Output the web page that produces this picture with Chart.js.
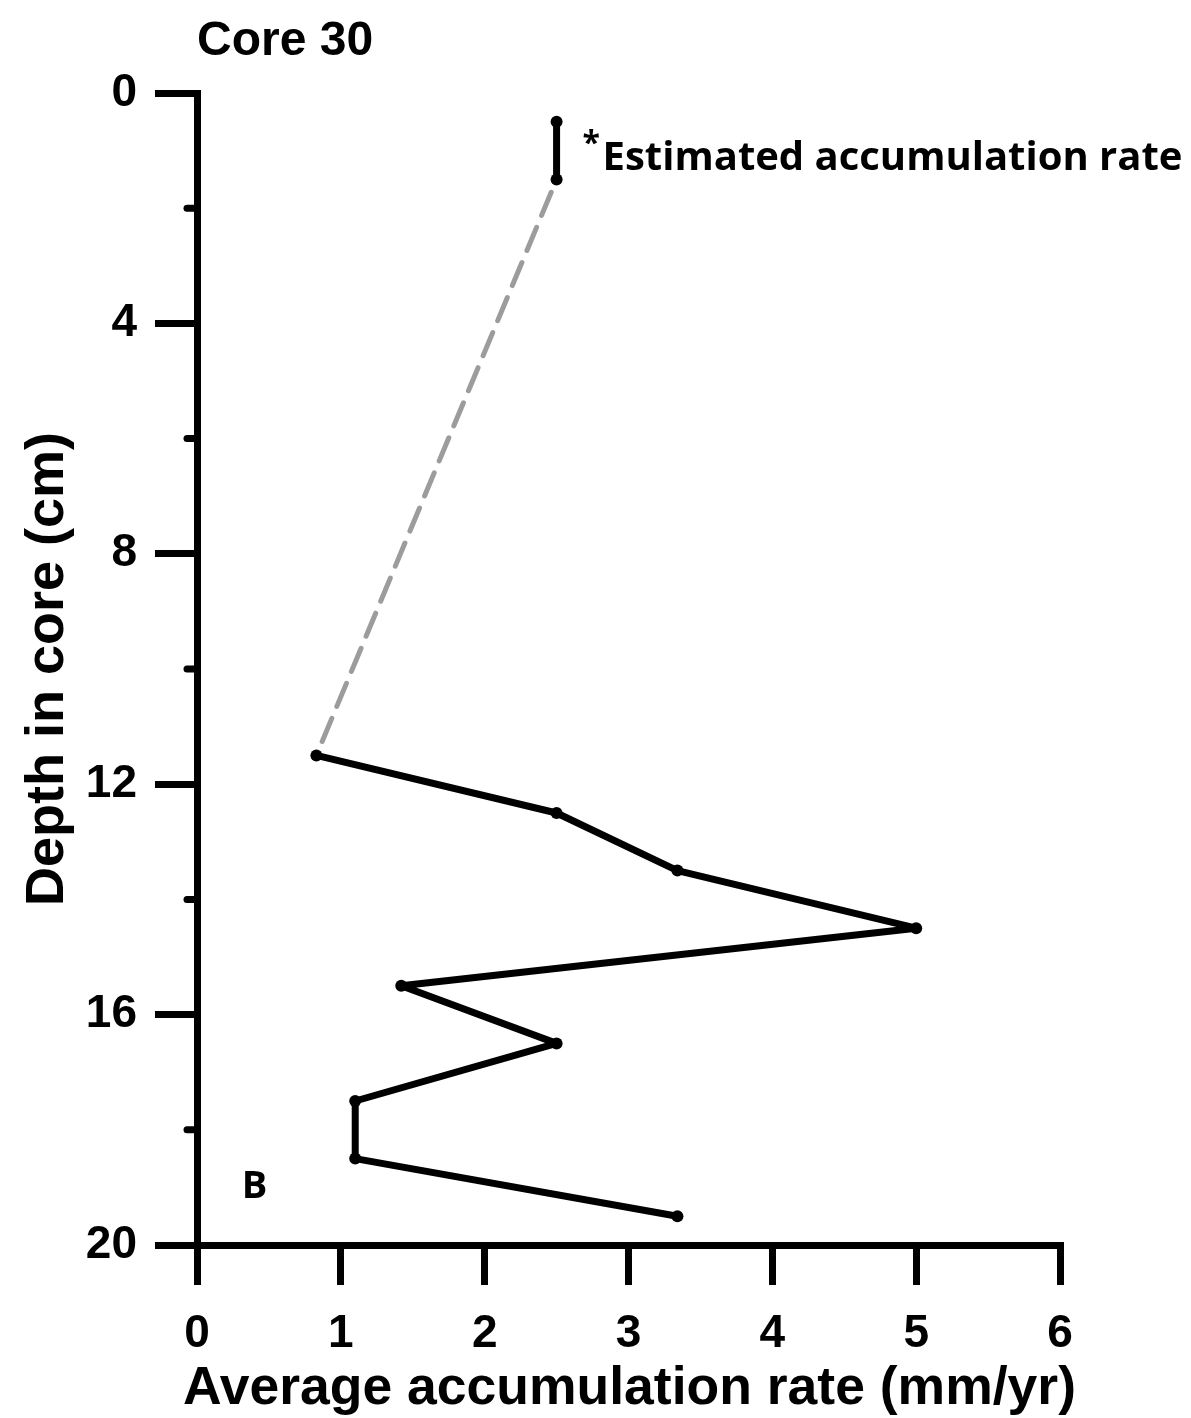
<!DOCTYPE html>
<html>
<head>
<meta charset="utf-8">
<title>Core 30</title>
<script src="https://cdn.jsdelivr.net/npm/chart.js@4.4.1/dist/chart.umd.min.js"></script>
<style>
  html, body { margin: 0; padding: 0; background: #fff; }
  #wrap { width: 1191px; height: 1418px; }
</style>
</head>
<body>
<div id="wrap"><canvas id="core-chart" width="1191" height="1418"></canvas></div>
<script>
'use strict'

// Data
const depths = [11.5, 12.5, 13.5, 14.5, 15.5, 16.5, 17.5, 18.5, 19.5];
const rates = [0.83, 2.5, 3.34, 5.0, 1.42, 2.5, 1.1, 1.1, 3.34];
const estDepths = [0.5, 1.5];
const estRates = [2.5, 2.5];
const yTicks = [0, 4, 8, 12, 16, 20];
const yMinorTicks = [2, 6, 10, 14, 18];
const xTicks = [0, 1, 2, 3, 4, 5, 6];

const SANS = '"Liberation Sans", Arial, sans-serif';
const NOTE = '"Open Sans", "Noto Sans", sans-serif';

const mainPts = depths.map((d, i) => ({x: rates[i], y: d}));
const estPts = estDepths.map((d, i) => ({x: estRates[i], y: d}));
const linkPts = [estPts[estPts.length - 1], mainPts[0]];

// minor ticks on the depth axis, x title (wider than the plot) and text notes
const extras = {
    id: 'extras',
    afterDraw(chart) {
        const {ctx, scales: {x, y}, chartArea} = chart;
        ctx.save();
        ctx.strokeStyle = '#000';
        ctx.lineWidth = 7;
        ctx.lineCap = 'round';
        yMinorTicks.forEach(v => {
            const py = y.getPixelForValue(v);
            ctx.beginPath();
            ctx.moveTo(chartArea.left - 10, py);
            ctx.lineTo(chartArea.left, py);
            ctx.stroke();
        });

        ctx.fillStyle = '#000';
        ctx.textBaseline = 'middle';
        ctx.textAlign = 'center';
        ctx.font = 'bold 53.5px ' + SANS;
        ctx.fillText('Average accumulation rate (mm/yr)', (x.left + x.right) / 2 + 1, 1389);

        ctx.textAlign = 'left';
        ctx.font = 'bold 48px ' + SANS;
        ctx.fillText('Core 30', chartArea.left, 42);

        const nx = x.getPixelForValue(estRates[0]);
        const ny = y.getPixelForValue((estDepths[0] + estDepths[1]) / 2);
        ctx.font = 'bold 32px ' + NOTE;
        ctx.fillText('*', nx + 26, ny - 6);
        ctx.font = 'bold 40px ' + NOTE;
        ctx.fillText('Estimated accumulation rate', nx + 46, ny + 8);

        ctx.textAlign = 'center';
        ctx.font = 'bold 38px ' + NOTE;
        ctx.fillText('B', x.getPixelForValue(0.4), y.getPixelForValue(19));
        ctx.restore();
    }
};

const lineStyle = {
    showLine: true,
    borderColor: '#000',
    backgroundColor: '#000',
    borderWidth: 7,
    borderCapStyle: 'round',
    borderJoinStyle: 'round',
    pointRadius: 6,
    pointBackgroundColor: '#000',
    pointBorderWidth: 0,
    tension: 0,
    clip: false
};

new Chart(document.getElementById('core-chart'), {
    type: 'scatter',
    data: {
        datasets: [
            Object.assign({label: 'Core 30', data: mainPts, order: 1}, lineStyle),
            Object.assign({label: 'Estimated', data: estPts, order: 1}, lineStyle),
            {
                label: 'link',
                data: linkPts,
                order: 2,
                showLine: true,
                borderColor: '#9c9c9c',
                borderWidth: 5,
                borderDash: [25, 13],
                borderDashOffset: -14,
                borderCapStyle: 'round',
                pointRadius: 0,
                tension: 0,
                clip: false
            }
        ]
    },
    options: {
        responsive: false,
        animation: false,
        devicePixelRatio: 1,
        layout: {padding: {top: 93, right: 131, left: 0, bottom: 0}},
        plugins: {legend: {display: false}, tooltip: {enabled: false}},
        scales: {
            x: {
                type: 'linear',
                min: 0,
                max: 6,
                afterBuildTicks: s => { s.ticks = xTicks.map(v => ({value: v})); },
                afterFit: s => { s.height = 173; },
                grid: {drawOnChartArea: false, color: '#000', lineWidth: 7, tickLength: 40},
                border: {color: '#000', width: 7},
                ticks: {color: '#000', font: {family: SANS, size: 46, weight: 'bold'}, padding: 22},
                title: {display: false}
            },
            y: {
                type: 'linear',
                reverse: true,
                min: 0,
                max: 20,
                afterBuildTicks: s => { s.ticks = yTicks.map(v => ({value: v})); },
                afterFit: s => { s.width = 197; },
                grid: {drawOnChartArea: false, color: '#000', lineWidth: 7, tickLength: 42},
                border: {color: '#000', width: 7},
                ticks: {color: '#000', font: {family: SANS, size: 46, weight: 'bold'}, padding: 18},
                title: {
                    display: true,
                    text: 'Depth in core (cm)',
                    color: '#000',
                    font: {family: SANS, size: 54, weight: 'bold', lineHeight: 1.2},
                    padding: {top: 16, bottom: 0}
                }
            }
        }
    },
    plugins: [extras]
});
</script>
</body>
</html>
